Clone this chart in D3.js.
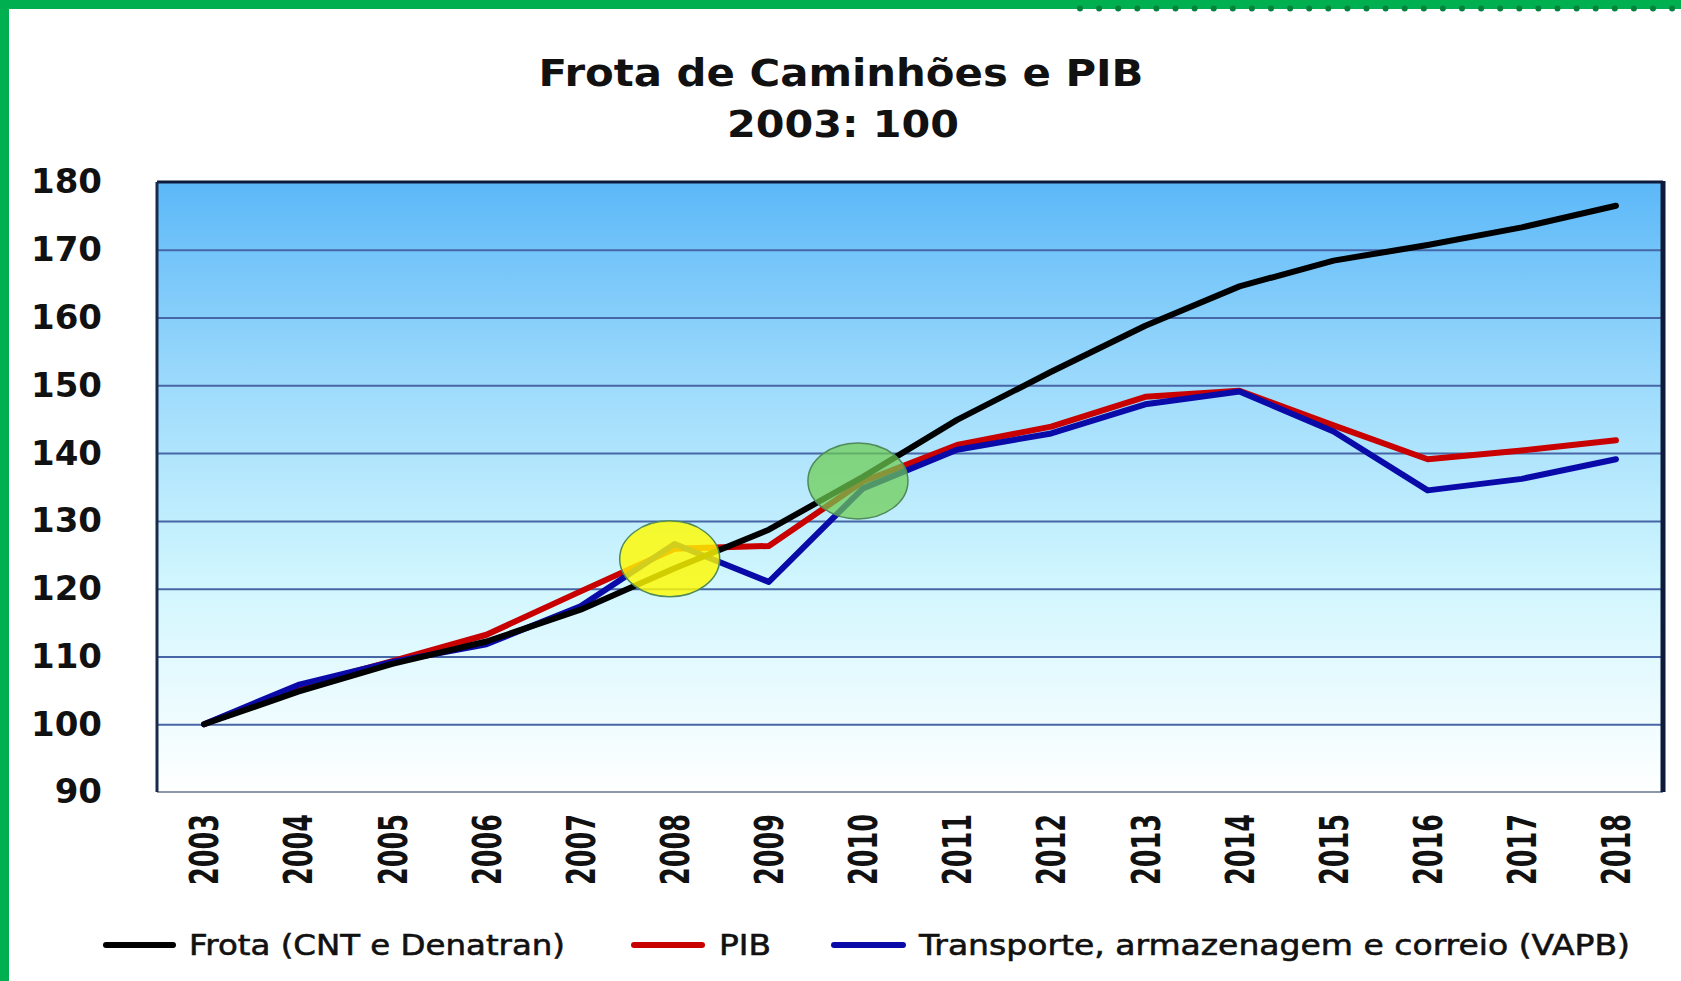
<!DOCTYPE html>
<html>
<head>
<meta charset="utf-8">
<script src="https://cdn.jsdelivr.net/npm/d3@7"></script>
<style>
  body { margin: 0; background: #fff; }
  svg { display: block; }
  .ylab text { font-family: "DejaVu Sans", sans-serif; font-weight: bold; font-size: 34px; fill: #111; }
  .xlab text { font-family: "DejaVu Sans", sans-serif; font-weight: bold; font-size: 25.5px; fill: #111; }
  .title { font-family: "DejaVu Sans", sans-serif; font-weight: bold; fill: #111; }
  .legend text { font-family: "DejaVu Sans", sans-serif; font-size: 29px; fill: #111; stroke: #111; stroke-width: 0.6px; }
</style>
</head>
<body>
<div id="chart"></div>
<script>
// data
const years = [2003, 2004, 2005, 2006, 2007, 2008, 2009, 2010, 2011, 2012, 2013, 2014, 2015, 2016, 2017, 2018];
const frota = [100, 104.8, 108.9, 112.2, 116.9, 123.0, 128.7, 136.5, 144.9, 152.0, 158.8, 164.6, 168.4, 170.7, 173.3, 176.5];
const pib   = [100, 105.5, 109.3, 113.2, 119.6, 125.9, 126.3, 135.8, 141.2, 143.9, 148.3, 149.2, 144.1, 139.1, 140.4, 141.9];
const vapb  = [100, 105.8, 109.2, 111.8, 117.4, 126.6, 121.0, 134.8, 140.5, 142.9, 147.2, 149.1, 143.2, 134.5, 136.2, 139.1];
const yTicks = [90, 100, 110, 120, 130, 140, 150, 160, 170, 180];
const seriesNames = ["Frota (CNT e Denatran)", "PIB", "Transporte, armazenagem e correio (VAPB)"];
const highlightYears = [2008, 2010];
const highlightValues = [124.4, 135.9];

const width = 1681, height = 981;
const plot = { left: 157, right: 1663, top: 182, bottom: 792 };

const svg = d3.select("#chart").append("svg")
  .attr("width", width)
  .attr("height", height);

// green frame on the left and top, with the dotted strip
svg.append("rect").attr("x", 0).attr("y", 0).attr("width", 9).attr("height", height).attr("fill", "#00b050");
svg.append("rect").attr("x", 0).attr("y", 0).attr("width", width).attr("height", 9).attr("fill", "#00b050");
svg.append("g").selectAll("circle")
  .data(d3.range(1080, width, 19.1))
  .enter().append("circle")
  .attr("cx", d => d).attr("cy", 8.5).attr("r", 3)
  .attr("fill", "#06823c");

const x = d3.scaleBand().domain(years).range([plot.left, plot.right]);
const xc = d => x(d) + x.bandwidth() / 2;
const y = d3.scaleLinear().domain([90, 180]).range([plot.bottom, plot.top]);

const grad = svg.append("defs").append("linearGradient")
  .attr("id", "bg").attr("x1", 0).attr("y1", 0).attr("x2", 0).attr("y2", 1);
grad.append("stop").attr("offset", "0%").attr("stop-color", "#5cb8f8");
grad.append("stop").attr("offset", "35%").attr("stop-color", "#a0dcfc");
grad.append("stop").attr("offset", "65%").attr("stop-color", "#d0f6fe");
grad.append("stop").attr("offset", "100%").attr("stop-color", "#ffffff");

svg.append("rect")
  .attr("x", plot.left).attr("y", plot.top)
  .attr("width", plot.right - plot.left).attr("height", plot.bottom - plot.top)
  .attr("fill", "url(#bg)");

// gridlines
svg.append("g")
  .attr("transform", `translate(${plot.left},0)`)
  .call(d3.axisLeft(y).tickValues(yTicks.filter(v => v > 90 && v < 180))
    .tickSize(-(plot.right - plot.left)).tickFormat(""))
  .call(g => g.select(".domain").remove())
  .call(g => g.selectAll("line").attr("stroke", "#4766a6").attr("stroke-width", 2));

// frame
svg.append("line").attr("x1", plot.left).attr("x2", plot.right).attr("y1", plot.bottom).attr("y2", plot.bottom)
  .attr("stroke", "#8a98a8").attr("stroke-width", 2);
svg.append("line").attr("x1", plot.left).attr("x2", plot.right).attr("y1", plot.top).attr("y2", plot.top)
  .attr("stroke", "#0d1a3a").attr("stroke-width", 3);
svg.append("line").attr("x1", plot.right).attr("x2", plot.right).attr("y1", plot.top - 1).attr("y2", plot.bottom)
  .attr("stroke", "#0d1a3a").attr("stroke-width", 5);
svg.append("line").attr("x1", plot.left).attr("x2", plot.left).attr("y1", plot.top).attr("y2", plot.bottom)
  .attr("stroke", "#1a2a4a").attr("stroke-width", 3);

// y labels
svg.append("g")
  .attr("class", "ylab")
  .attr("transform", `translate(${plot.left},0)`)
  .call(d3.axisLeft(y).tickValues(yTicks).tickSize(0).tickPadding(55))
  .call(g => g.select(".domain").remove());

// x labels, rotated
const xl = svg.append("g").attr("class", "xlab");
xl.selectAll("text")
  .data(years)
  .enter().append("text")
  .attr("transform", d => `translate(${xc(d)},814) rotate(-90) scale(1,1.55)`)
  .attr("text-anchor", "end")
  .attr("dy", "0.36em")
  .text(d => d);

// lines
const line = d3.line().x((d, i) => xc(years[i])).y(d => y(d));
const colors = ["#000000", "#c80000", "#0a0aa8"];
const seriesData = [frota, pib, vapb];
[1, 2, 0].forEach(i => {
  svg.append("path")
    .datum(seriesData[i])
    .attr("d", line)
    .attr("fill", "none")
    .attr("stroke", colors[i])
    .attr("stroke-width", 6)
    .attr("stroke-linejoin", "round")
    .attr("stroke-linecap", "round");
});

// highlight ellipses
const hlFill = ["rgba(255,250,0,0.82)", "rgba(110,205,80,0.72)"];
svg.append("g").selectAll("ellipse")
  .data(highlightYears)
  .enter().append("ellipse")
  .attr("cx", d => xc(d) - 5)
  .attr("cy", (d, i) => y(highlightValues[i]))
  .attr("rx", 50).attr("ry", 38)
  .attr("fill", (d, i) => hlFill[i])
  .attr("stroke", "#4f8a5a").attr("stroke-width", 1.5);

// title
svg.append("text").attr("class", "title")
  .attr("x", 841).attr("y", 86).attr("text-anchor", "middle")
  .attr("font-size", 37)
  .attr("textLength", 605).attr("lengthAdjust", "spacingAndGlyphs")
  .text("Frota de Caminhões e PIB");
svg.append("text").attr("class", "title")
  .attr("x", 843).attr("y", 137).attr("text-anchor", "middle")
  .attr("font-size", 37)
  .attr("textLength", 232).attr("lengthAdjust", "spacingAndGlyphs")
  .text("2003: 100");

// legend
const legendLine = [[106, 173], [634, 702], [834, 903]];
const legendText = [[189, 376], [719, 52], [919, 711]];
const lg = svg.append("g").attr("class", "legend");
seriesNames.forEach((name, i) => {
  lg.append("line")
    .attr("x1", legendLine[i][0]).attr("x2", legendLine[i][1])
    .attr("y1", 945).attr("y2", 945)
    .attr("stroke", colors[i]).attr("stroke-width", 6).attr("stroke-linecap", "round");
  lg.append("text")
    .attr("x", legendText[i][0]).attr("y", 955)
    .attr("textLength", legendText[i][1]).attr("lengthAdjust", "spacingAndGlyphs")
    .text(name);
});
</script>
</body>
</html>
